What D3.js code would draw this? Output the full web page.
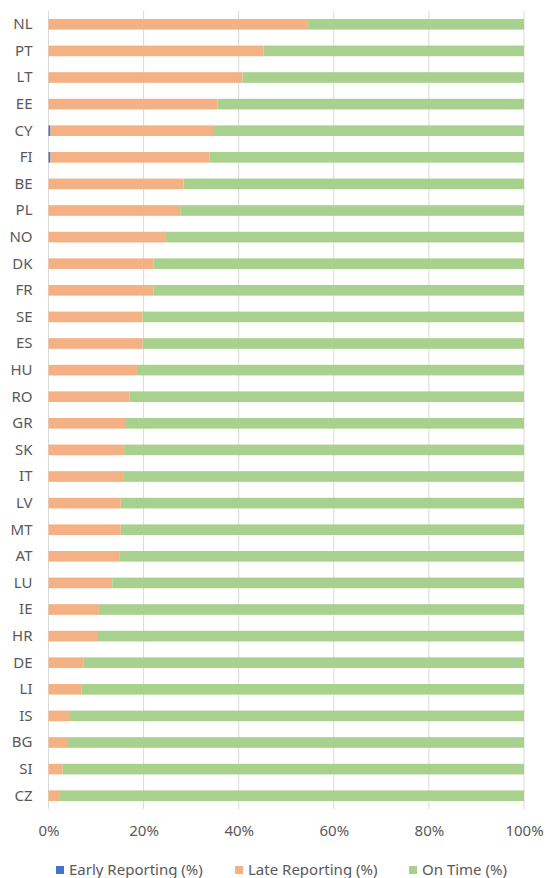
<!DOCTYPE html>
<html>
<head>
<meta charset="utf-8">
<script src="https://cdn.jsdelivr.net/npm/d3@7"></script>
<style>
  body { margin: 0; background: #fff; }
  text { font-family: "Noto Sans", sans-serif; fill: #595959; }
</style>
</head>
<body>
<div id="chart"></div>
<script>
// Countries, top to bottom
const countries = ["NL","PT","LT","EE","CY","FI","BE","PL","NO","DK","FR","SE","ES","HU","RO",
  "GR","SK","IT","LV","MT","AT","LU","IE","HR","DE","LI","IS","BG","SI","CZ"];

// Share of reports (%)
const earlyReporting = [0,0,0,0,0.4,0.4,0,0,0,0,0,0,0,0,0,
  0,0,0,0,0,0,0,0,0,0,0,0,0,0,0];
const lateReporting = [54.6,45.2,40.8,35.5,34.2,33.4,28.4,27.7,24.7,22.1,22.1,19.8,19.8,18.6,17.0,
  16.1,15.9,15.7,15.2,15.2,15.0,13.4,10.6,10.2,7.3,7.0,4.5,4.1,3.0,2.4];
const onTime = countries.map((c, i) => 100 - earlyReporting[i] - lateReporting[i]);

const seriesNames = ["Early Reporting (%)", "Late Reporting (%)", "On Time (%)"];
const seriesColors = ["#4472C4", "#F4B183", "#A9D18E"];
const xTicks = [0, 20, 40, 60, 80, 100];

const width = 547, height = 878;
const margins = {top: 11, right: 23, bottom: 69, left: 48.5};

const svg = d3.select("#chart")
  .append("svg")
    .attr("width", width)
    .attr("height", height);

const rows = countries.map((c, i) => ({
  country: c,
  "Early Reporting (%)": earlyReporting[i],
  "Late Reporting (%)": lateReporting[i],
  "On Time (%)": onTime[i]
}));

const stacked = d3.stack().keys(seriesNames)(rows);

const xScale = d3.scaleLinear()
  .domain([0, 100])
  .range([margins.left, width - margins.right]);

const yScale = d3.scaleBand()
  .domain(countries)
  .range([margins.top, height - margins.bottom])
  .paddingInner(0.6)
  .paddingOuter(0.3);

const color = d3.scaleOrdinal().domain(seriesNames).range(seriesColors);

// gridlines
svg.append("g")
  .selectAll("line")
  .data(xTicks)
  .join("line")
    .attr("x1", d => xScale(d))
    .attr("x2", d => xScale(d))
    .attr("y1", margins.top)
    .attr("y2", height - margins.bottom)
    .attr("stroke", "#d9d9d9")
    .attr("stroke-width", 1);

// bars
svg.append("g")
  .selectAll("g")
  .data(stacked)
  .join("g")
    .attr("fill", d => color(d.key))
  .selectAll("rect")
  .data(d => d)
  .join("rect")
    .attr("x", d => xScale(d[0]))
    .attr("y", d => yScale(d.data.country))
    .attr("width", d => xScale(d[1]) - xScale(d[0]))
    .attr("height", yScale.bandwidth());

// y axis labels
const yAxis = d3.axisLeft(yScale).tickSize(0).tickPadding(16);
svg.append("g")
  .attr("transform", `translate(${margins.left},0)`)
  .call(yAxis)
  .call(g => g.select(".domain").remove())
  .call(g => g.selectAll("text").attr("font-size", 15).attr("fill", "#595959"));

// x axis labels
const xAxis = d3.axisBottom(xScale).tickValues(xTicks).tickFormat(d => d + "%").tickSize(0).tickPadding(16);
svg.append("g")
  .attr("transform", `translate(0,${height - margins.bottom})`)
  .call(xAxis)
  .call(g => g.select(".domain").remove())
  .call(g => g.selectAll("text").attr("font-size", 15).attr("fill", "#595959"));

// legend
const legendX = [56, 235, 409];
const legend = svg.append("g")
  .selectAll("g")
  .data(seriesNames)
  .join("g")
    .attr("transform", (d, i) => `translate(${legendX[i]},870)`);
legend.append("rect")
  .attr("x", 0).attr("y", -4)
  .attr("width", 8).attr("height", 8)
  .attr("fill", d => color(d));
legend.append("text")
  .attr("x", 13)
  .attr("dy", "0.35em")
  .attr("font-size", 15)
  .text(d => d);
</script>
</body>
</html>
